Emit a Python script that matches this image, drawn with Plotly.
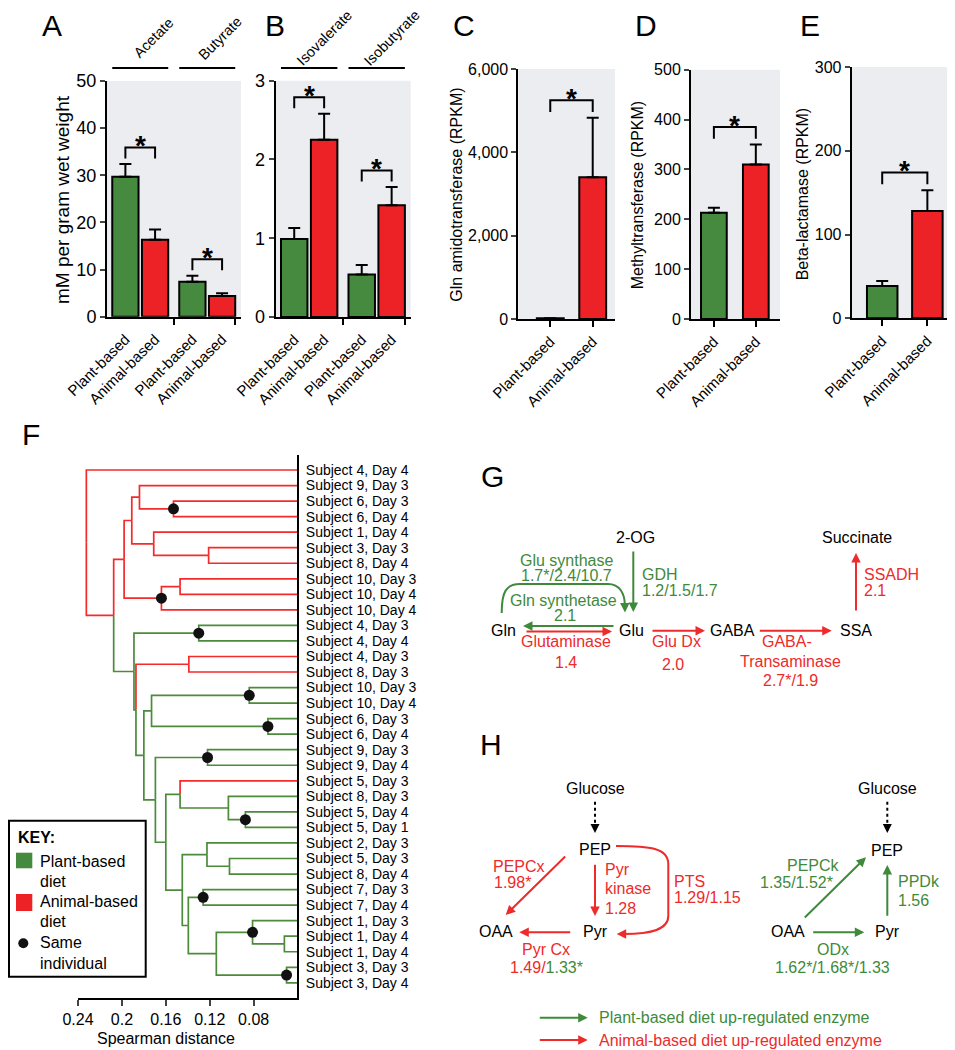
import plotly.graph_objects as go

# The page adds an 8px body margin; the figure is sized to fit the window and
# every layout position below is given in reference-picture pixels.
OFF = 8
W, H = 955 - OFF, 1050 - OFF
FONT = 'Liberation Sans, Arial, Helvetica, sans-serif'
GREEN = '#468A3F'
RED = '#EC2227'
DGREEN = '#4B8B3B'
DRED = '#F52A2A'
TGREEN = '#3F8A3A'
TRED = '#EE2A2A'
BG = '#ECEDF0'

# ---------------- data ----------------
diets = ['Plant-based', 'Animal-based']

a_groups = ['Acetate', 'Butyrate']
a_plant = [29.7, 7.4]
a_plant_err = [2.7, 1.3]
a_animal = [16.3, 4.4]
a_animal_err = [2.2, 0.6]

b_groups = ['Isovalerate', 'Isobutyrate']
b_plant = [0.99, 0.54]
b_plant_err = [0.14, 0.12]
b_animal = [2.25, 1.42]
b_animal_err = [0.33, 0.23]

c_vals = [20, 3400]
c_err = [0, 1430]
d_vals = [213, 310]
d_err = [10, 40]
e_vals = [38.6, 128]
e_err = [6, 25]

leaf_labels = ['Subject 4, Day 4', 'Subject 9, Day 3', 'Subject 6, Day 3', 'Subject 6, Day 4',
               'Subject 1, Day 4', 'Subject 3, Day 3', 'Subject 8, Day 4', 'Subject 10, Day 3',
               'Subject 10, Day 4', 'Subject 10, Day 4', 'Subject 4, Day 3', 'Subject 4, Day 4',
               'Subject 4, Day 3', 'Subject 8, Day 3', 'Subject 10, Day 3', 'Subject 10, Day 4',
               'Subject 6, Day 3', 'Subject 6, Day 4', 'Subject 9, Day 3', 'Subject 9, Day 4',
               'Subject 5, Day 3', 'Subject 8, Day 3', 'Subject 5, Day 4', 'Subject 5, Day 1',
               'Subject 2, Day 3', 'Subject 5, Day 3', 'Subject 8, Day 4', 'Subject 7, Day 3',
               'Subject 7, Day 4', 'Subject 1, Day 3', 'Subject 1, Day 4', 'Subject 1, Day 4',
               'Subject 3, Day 3', 'Subject 3, Day 4']
leaf_diet = list('AAAAAAAAAA' 'PP' 'AA' 'PPPPPP' 'A' 'PPPPPPPPPPPPP')
leaf_dist = 0.0405

node_ids = ['a1', 'a2', 'a3', 'a4', 'a5', 'a6', 'a7', 'a8',
            'g1', 'g2', 'g3', 'g4', 'g5', 'g6', 'g7', 'g8', 'g9', 'g10', 'g11', 'g12',
            'g13', 'g14', 'g15', 'g16', 'g17', 'g18', 'g19', 'g20', 'g21', 'g22', 'g23',
            'r1', 'root']
node_left = [2, 1, 5, 4, 'a2', 7, 'a6', 'a5',
             10, 12, 14, 16, 'g3', 18, 22, 21, 20, 25, 24, 27,
             30, 29, 32, 'g14', 'g12', 'g11', 'g9', 'g6', 'g5', 'g2', 'g1',
             'a8', 0]
node_right = [3, 'a1', 6, 'a3', 'a4', 8, 9, 'a7',
              11, 13, 15, 17, 'g4', 19, 23, 'g7', 'g8', 26, 'g10', 28,
              31, 'g13', 33, 'g15', 'g16', 'g17', 'g18', 'g19', 'g20', 'g21', 'g22',
              'g23', 'r1']
node_dist = [0.153, 0.184, 0.121, 0.171, 0.191, 0.147, 0.164, 0.198,
             0.130, 0.139, 0.084, 0.067, 0.173, 0.122, 0.0875, 0.103, 0.147, 0.102, 0.1225, 0.126,
             0.052, 0.081, 0.050, 0.114, 0.1395, 0.145, 0.160, 0.1695, 0.180, 0.1872, 0.189,
             0.2075, 0.2324]
node_diet = ['A'] * 8 + ['P', 'A'] + ['P'] * 21 + ['A', 'A']
node_same = [True, False, False, False, False, False, True, False,
             True, False, True, True, False, True, True, False, False, False, False, True,
             False, True, True, False, False, False, False, False, False, False, False,
             False, False]
dist_ticks = [0.24, 0.2, 0.16, 0.12, 0.08]

fig = go.Figure()
shapes, ann = [], []
layout = {}


def px(x):
    return (x - OFF) / W


def py(y):
    return 1 - (y - OFF) / H


def txt(x, y, s, color='black', size=16, anchor='center', **kw):
    d = dict(x=px(x), y=py(y), xref='paper', yref='paper', text=s, showarrow=False,
             font=dict(family=FONT, size=size, color=color), xanchor=anchor, yanchor='middle')
    d.update(kw)
    ann.append(d)


def arrow(x0, y0, x1, y1, color, size=0.95, width=2):
    ann.append(dict(x=px(x1), y=py(y1), xref='paper', yref='paper', ax=(x0 - x1), ay=(y0 - y1),
                    axref='pixel', ayref='pixel', showarrow=True, arrowhead=2, arrowsize=size,
                    arrowwidth=width, arrowcolor=color, text='', standoff=0, startstandoff=0))


def line(x0, y0, x1, y1, color='black', width=2, dash='solid'):
    shapes.append(dict(type='line', xref='paper', yref='paper', x0=px(x0), y0=py(y0), x1=px(x1), y1=py(y1),
                       line=dict(color=color, width=width, dash=dash)))


def path(pts_cmd, color, width=2):
    shapes.append(dict(type='path', xref='paper', yref='paper', path=pts_cmd,
                       line=dict(color=color, width=width)))


def P(x, y):
    return f'{px(x):.5f},{py(y):.5f}'


# ---------------- bar panels ----------------
def bar_panel(k, dom, xr, plant_x, animal_x, plant, plant_err, animal, animal_err,
              ymax, ytv, ytt, yfs, minor=None, cat_fs=15):
    sx = '' if k == 1 else str(k)
    xa, ya = 'x' + sx, 'y' + sx
    for xs, vs, es, col in [(plant_x, plant, plant_err, GREEN), (animal_x, animal, animal_err, RED)]:
        fig.add_trace(go.Bar(x=xs, y=vs, width=[1.0] * len(xs),
                             marker=dict(color=col, line=dict(color='black', width=2)),
                             error_y=dict(type='data', symmetric=False, array=es, arrayminus=[0] * len(es),
                                          color='black', thickness=2, width=6),
                             xaxis=xa, yaxis=ya, hoverinfo='skip', showlegend=False))
    allx = sorted(plant_x + animal_x)
    labels = [diets[0] if xv in plant_x else diets[1] for xv in allx]
    xd = dict(domain=[px(dom[0]), px(dom[2])], range=xr, anchor=ya, showline=True, linecolor='black',
              linewidth=2, tickmode='array', tickvals=allx, ticktext=labels, tickangle=-45,
              ticks='outside', ticklen=6, tickwidth=2, automargin=False,
              tickcolor='black' if minor is None else 'rgba(0,0,0,0)',
              tickfont=dict(family=FONT, size=cat_fs, color='black'), showgrid=False, zeroline=False,
              fixedrange=True)
    if minor is not None:
        xd['minor'] = dict(tickmode='array', tickvals=minor, ticks='outside', ticklen=6, tickwidth=2,
                           tickcolor='black', showgrid=False)
    layout['xaxis' + sx] = xd
    layout['yaxis' + sx] = dict(domain=[py(dom[3]), py(dom[1])], range=[0, ymax], anchor=xa, showline=True,
                                linecolor='black', linewidth=2, ticks='outside', ticklen=5, tickwidth=2,
                                tickmode='array', tickvals=ytv, ticktext=ytt, automargin=False,
                                tickfont=dict(family=FONT, size=yfs, color='black'), showgrid=False,
                                zeroline=False, fixedrange=True)
    shapes.append(dict(type='rect', xref=xa + ' domain', yref=ya + ' domain', x0=0, x1=1, y0=0, y1=1,
                       fillcolor=BG, line=dict(width=0), layer='below'))
    for i in range(len(plant_x)):
        x1, x2 = plant_x[i], animal_x[i]
        top = max(plant[i] + plant_err[i], animal[i] + animal_err[i]) + 0.07 * ymax
        leg = top - 0.047 * ymax
        shapes.append(dict(type='path', xref=xa, yref=ya,
                           path=f'M {x1},{leg} L {x1},{top} L {x2},{top} L {x2},{leg}',
                           line=dict(color='black', width=2)))
        ann.append(dict(x=(x1 + x2) / 2, y=top, xref=xa, yref=ya, text='<b>*</b>', showarrow=False,
                        font=dict(family=FONT, size=28, color='black'), xanchor='center', yanchor='middle',
                        yshift=2))
    return xa, ya


def group_geom(n):
    px_ = [0.7 + g * 2.55 for g in range(n)]
    ax_ = [p + 1.13 for p in px_]
    return px_, ax_


def minors(px_, ax_):
    m = []
    for g in range(len(px_) - 1):
        m.append(((ax_[g] + 0.5) + (px_[g + 1] - 0.5)) / 2)
    m.append(ax_[-1] + 0.5)
    return m


# Panel A
pA, aA = group_geom(2)
xa, ya = bar_panel(1, (107, 81, 241, 316.7), [0, 5.1], pA, aA, a_plant, a_plant_err, a_animal, a_animal_err,
                   50, [0, 10, 20, 30, 40, 50], ['0', '10', '20', '30', '40', '50'], 18, minor=minors(pA, aA))
for g, name in enumerate(a_groups):
    shapes.append(dict(type='line', xref=xa, yref='paper', x0=pA[g] - 0.5, x1=aA[g] + 0.5, y0=py(68), y1=py(68),
                       line=dict(color='black', width=2)))
    ann.append(dict(x=(pA[g] + aA[g]) / 2, y=py(38), xref=xa, yref='paper', text=name, textangle=-45,
                    showarrow=False, xshift=13, font=dict(family=FONT, size=14.5, color='black'),
                    xanchor='center', yanchor='middle'))
txt(62, 200, 'mM per gram wet weight', size=19, textangle=-90)

# Panel B
pB, aB = group_geom(2)
xb, yb = bar_panel(2, (275.7, 80.7, 410.7, 317), [0, 5.1], pB, aB, b_plant, b_plant_err, b_animal, b_animal_err,
                   3, [0, 1, 2, 3], ['0', '1', '2', '3'], 18, minor=minors(pB, aB))
for g, name in enumerate(b_groups):
    shapes.append(dict(type='line', xref=xb, yref='paper', x0=pB[g] - 0.5, x1=aB[g] + 0.5, y0=py(68), y1=py(68),
                       line=dict(color='black', width=2)))
    ann.append(dict(x=(pB[g] + aB[g]) / 2, y=py(38), xref=xb, yref='paper', text=name, textangle=-45,
                    showarrow=False, xshift=15, font=dict(family=FONT, size=14.5, color='black'),
                    xanchor='center', yanchor='middle'))

# Panels C, D, E
bar_panel(3, (518.3, 69, 615, 319), [0, 3.6], [1.19], [2.77], [c_vals[0]], [c_err[0]], [c_vals[1]], [c_err[1]],
          6000, [0, 2000, 4000, 6000], ['0', '2,000', '4,000', '6,000'], 16)
txt(456.7, 195, 'Gln amidotransferase (RPKM)', size=16, textangle=-90)
bar_panel(4, (691, 69.7, 780, 319), [0, 3.46], [0.89], [2.52], [d_vals[0]], [d_err[0]], [d_vals[1]], [d_err[1]],
          500, [0, 100, 200, 300, 400, 500], ['0', '100', '200', '300', '400', '500'], 16)
txt(638.3, 195, 'Methyltransferase (RPKM)', size=16, textangle=-90)
bar_panel(5, (851.7, 67, 953, 318.3), [0, 3.32], [1.0], [2.48], [e_vals[0]], [e_err[0]], [e_vals[1]], [e_err[1]],
          300, [0, 100, 200, 300], ['0', '100', '200', '300'], 16)
txt(803.3, 194, 'Beta-lactamase (RPKM)', size=16, textangle=-90)

# ---------------- Panel F dendrogram ----------------
ypos, xpos, ndiet = {}, {}, {}
for i in range(len(leaf_labels)):
    ypos[i] = float(i)
    xpos[i] = leaf_dist
    ndiet[i] = leaf_diet[i]
for nid, l, r, d, dt in zip(node_ids, node_left, node_right, node_dist, node_diet):
    ypos[nid] = (ypos[l] + ypos[r]) / 2
    xpos[nid] = d
    ndiet[nid] = dt

segs = {'A': ([], []), 'P': ([], [])}
for nid, l, r in zip(node_ids, node_left, node_right):
    for c in (l, r):
        xs, ys = segs[ndiet[c]]
        xs += [xpos[nid], xpos[nid], xpos[c], None]
        ys += [ypos[nid], ypos[c], ypos[c], None]
for key, col in [('A', DRED), ('P', DGREEN)]:
    fig.add_trace(go.Scatter(x=segs[key][0], y=segs[key][1], mode='lines', line=dict(color=col, width=1.7),
                             xaxis='x6', yaxis='y6', hoverinfo='skip', showlegend=False))
dx = [xpos[n] for n, s in zip(node_ids, node_same) if s]
dy = [ypos[n] for n, s in zip(node_ids, node_same) if s]
fig.add_trace(go.Scatter(x=dx, y=dy, mode='markers', marker=dict(color='#111111', size=11),
                         xaxis='x6', yaxis='y6', hoverinfo='skip', showlegend=False))
n_leaf = len(leaf_labels)
y_top_pad = 15 / 15.54
y_bot_pad = (998 - 470) / 15.54
layout['xaxis6'] = dict(domain=[px(78), px(297)], range=[dist_ticks[0], leaf_dist], anchor='y6', showline=True,
                        linecolor='black', linewidth=2, ticks='outside', ticklen=6, tickwidth=2,
                        tickmode='array', tickvals=dist_ticks, ticktext=[f'{v:g}' for v in dist_ticks],
                        tickfont=dict(family=FONT, size=16, color='black'), showgrid=False, zeroline=False,
                        fixedrange=True, automargin=False)
layout['yaxis6'] = dict(domain=[py(998), py(455)], range=[y_bot_pad, -y_top_pad], anchor='x6', side='right',
                        showline=True, linecolor='black', linewidth=2, ticks='outside', ticklen=4,
                        tickcolor='rgba(0,0,0,0)', tickmode='array', tickvals=list(range(n_leaf)),
                        ticktext=leaf_labels, tickfont=dict(family=FONT, size=14, color='black'),
                        showgrid=False, zeroline=False, fixedrange=True, automargin=False)
txt(166, 1038, 'Spearman distance', size=16)

# key box
shapes.append(dict(type='rect', xref='paper', yref='paper', x0=px(9), x1=px(145.7), y0=py(976.7), y1=py(820.7),
                   line=dict(color='black', width=2), fillcolor='white'))
txt(16, 837, '<b>KEY:</b>', size=16, anchor='left')
shapes.append(dict(type='rect', xref='paper', yref='paper', x0=px(16), x1=px(32.3), y0=py(868.3), y1=py(852.7),
                   line=dict(width=0), fillcolor=GREEN))
shapes.append(dict(type='rect', xref='paper', yref='paper', x0=px(16), x1=px(32.3), y0=py(911), y1=py(894),
                   line=dict(width=0), fillcolor=RED))
shapes.append(dict(type='circle', xref='paper', yref='paper', x0=px(18.3), x1=px(28.3), y0=py(948.3), y1=py(938.3),
                   line=dict(width=0), fillcolor='#111111'))
txt(38, 861, 'Plant-based', anchor='left')
txt(38, 881.7, 'diet', anchor='left')
txt(38, 901.7, 'Animal-based', anchor='left')
txt(38, 921.7, 'diet', anchor='left')
txt(38, 942.7, 'Same', anchor='left')
txt(38, 963.3, 'individual', anchor='left')

# ---------------- Panel G ----------------
txt(635, 537.7, '2-OG')
txt(856.7, 537.7, 'Succinate')
txt(503.3, 630.7, 'Gln')
txt(631.7, 630.7, 'Glu')
txt(732.3, 630.7, 'GABA')
txt(856, 630.7, 'SSA')
txt(566, 560.2, 'Glu synthase', TGREEN)
txt(566, 575, '1.7*/2.4/10.7', TGREEN)
txt(563.3, 600, 'Gln synthetase', TGREEN)
txt(565, 615.5, '2.1', TGREEN)
txt(566, 641.7, 'Glutaminase', TRED)
txt(566, 662.7, '1.4', TRED)
txt(640, 574.3, 'GDH', TGREEN, anchor='left')
txt(640, 590, '1.2/1.5/1.7', TGREEN, anchor='left')
txt(861.7, 574.3, 'SSADH', TRED, anchor='left')
txt(861.7, 590, '2.1', TRED, anchor='left')
txt(676.7, 641.7, 'Glu Dx', TRED)
txt(673.3, 664, '2.0', TRED)
txt(786.7, 641.7, 'GABA-', TRED)
txt(790, 661.5, 'Transaminase', TRED)
txt(790, 680.7, '2.7*/1.9', TRED)

arrow(633.3, 550, 633.3, 612, TGREEN)
arrow(856, 612, 856, 553, TRED)
arrow(651, 630.7, 705, 630.7, TRED)
arrow(758.3, 630.7, 831.7, 630.7, TRED)
arrow(525, 631.5, 612, 631.5, TRED)
arrow(615, 626, 523, 626, TGREEN)
path(f'M {P(501.7, 613)} C {P(501.7, 592)} {P(506, 584)} {P(520, 584)} L {P(608, 584)} '
     f'C {P(620, 584)} {P(624.5, 594)} {P(624.8, 604)}', TGREEN)
arrow(624.8, 603, 625, 612.5, TGREEN)

# ---------------- Panel H ----------------
txt(595, 788.3, 'Glucose')
txt(595, 849, 'PEP')
txt(495.7, 931.7, 'OAA')
txt(595, 931.7, 'Pyr')
line(595, 801.7, 595, 828, 'black', 2, 'dot')
arrow(595, 826, 595, 833, 'black', 0.9)
arrow(566.7, 855, 505.7, 915, TRED)
arrow(595, 863.3, 595, 916, TRED)
arrow(571.7, 932.3, 519.3, 932.3, TRED)
path(f'M {P(616, 846)} C {P(650, 846)} {P(668.3, 848)} {P(668.3, 864)} L {P(668.3, 916)} '
     f'C {P(668.3, 930)} {P(650, 934)} {P(624, 934)}', TRED)
arrow(626, 934, 616.7, 934, TRED)
txt(490.7, 866, 'PEPCx', TRED, anchor='left')
txt(492, 882.7, '1.98*', TRED, anchor='left')
txt(603.3, 869.3, 'Pyr', TRED, anchor='left')
txt(603.3, 888.7, 'kinase', TRED, anchor='left')
txt(603.3, 908.3, '1.28', TRED, anchor='left')
txt(546, 949.3, 'Pyr Cx', TRED)
txt(546, 967.3, f'1.49/<span style="color:{TGREEN}">1.33*</span>', TRED)
txt(672.3, 881, 'PTS', TRED, anchor='left')
txt(672.3, 897.3, '1.29/1.15', TRED, anchor='left')

txt(887.3, 788.3, 'Glucose')
txt(887.3, 850, 'PEP')
txt(788.3, 931.7, 'OAA')
txt(887.3, 931.7, 'Pyr')
line(887.3, 801.7, 887.3, 828, 'black', 2, 'dot')
arrow(887.3, 826, 887.3, 833, 'black', 0.9)
arrow(803.3, 919, 866, 857.3, TGREEN)
arrow(887.3, 917.3, 887.3, 865, TGREEN)
arrow(811.7, 932.3, 864.3, 932.3, TGREEN)
txt(813.3, 865.7, 'PEPCk', TGREEN)
txt(796, 882.7, '1.35/1.52*', TGREEN)
txt(895.7, 881, 'PPDk', TGREEN, anchor='left')
txt(895.7, 900.7, '1.56', TGREEN, anchor='left')
txt(832.7, 949.3, 'ODx', TGREEN)
txt(832.7, 967.3, '1.62*/1.68*/1.33', TGREEN)

arrow(538.3, 1017.7, 587.7, 1017.7, TGREEN)
arrow(538.3, 1040, 587.7, 1040, TRED)
txt(596.7, 1017.7, 'Plant-based diet up-regulated enzyme', TGREEN, anchor='left')
txt(596.7, 1040, 'Animal-based diet up-regulated enzyme', TRED, anchor='left')

# panel letters
for L, x, y in [('A', 52, 25), ('B', 275, 25), ('C', 464, 25), ('D', 646, 25), ('E', 810, 25),
                ('F', 31, 434), ('G', 492, 476), ('H', 491, 744)]:
    txt(x, y, L, size=30)

layout.update(dict(width=W, height=H, margin=dict(l=0, r=0, t=0, b=0, autoexpand=False), autosize=False,
                   paper_bgcolor='white', plot_bgcolor='rgba(0,0,0,0)', showlegend=False,
                   barmode='overlay', shapes=shapes, annotations=ann,
                   font=dict(family=FONT, color='black')))
fig.update_layout(**layout)
fig.write_html('out.html')
